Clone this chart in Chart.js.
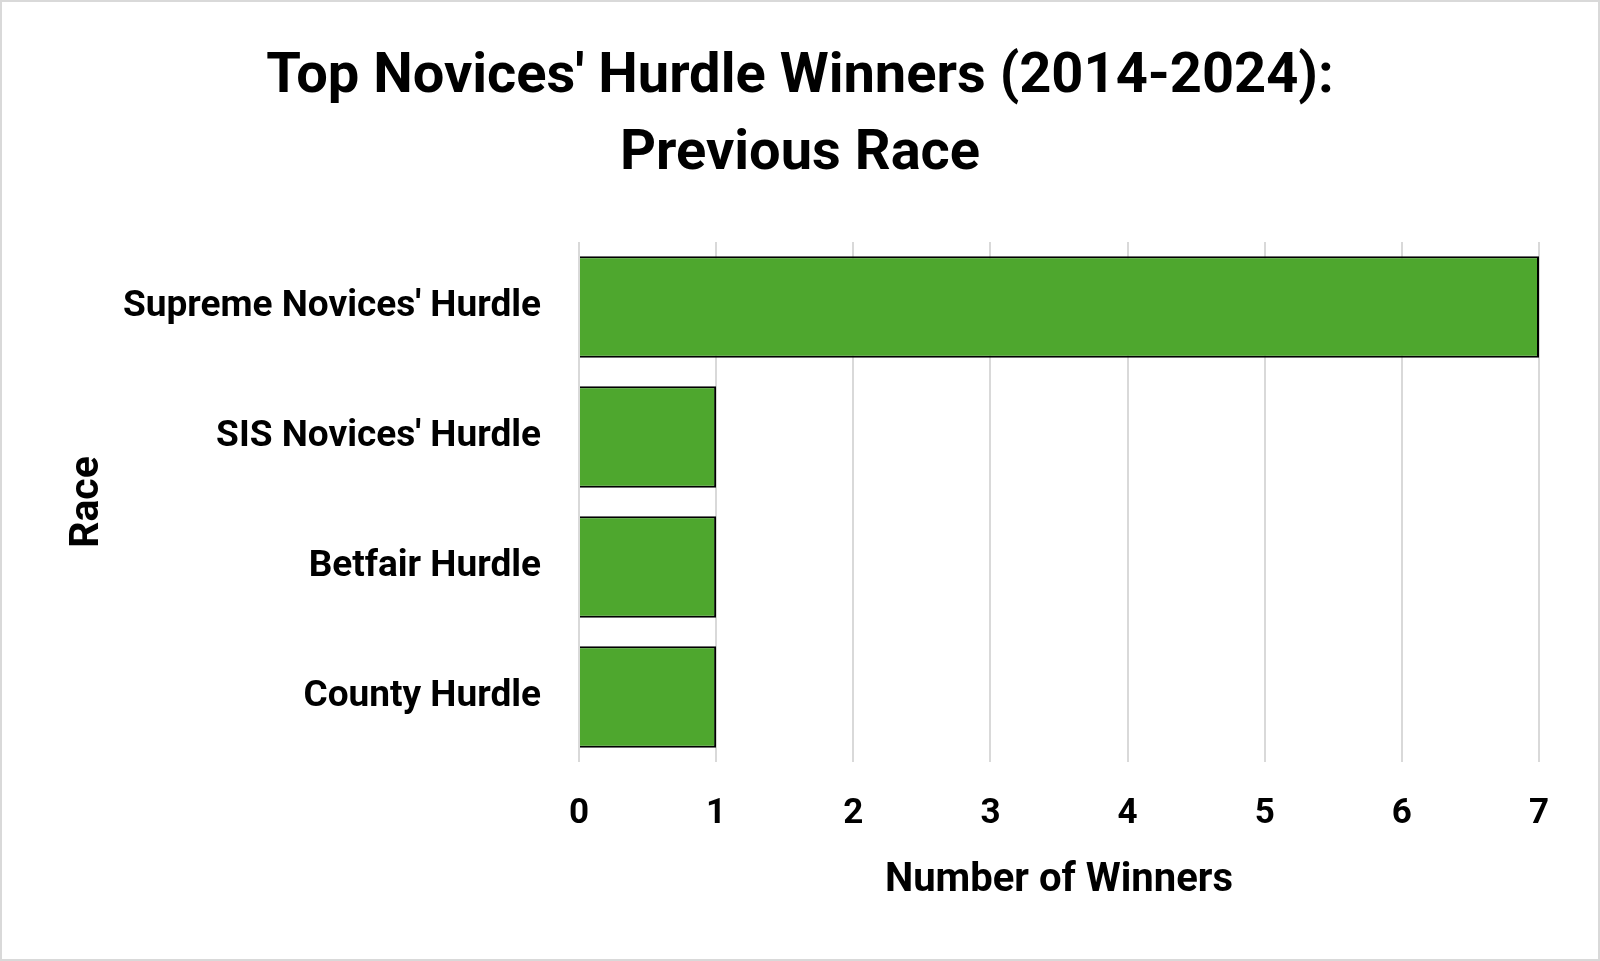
<!DOCTYPE html>
<html>
<head>
<meta charset="utf-8">
<script src="https://cdn.jsdelivr.net/npm/chart.js@4/dist/chart.umd.min.js"></script>
<style>
  html, body { margin: 0; padding: 0; background: #ffffff; }
  canvas { display: block; }
</style>
</head>
<body>
<canvas id="c" width="1600" height="961"></canvas>
<script>
const categories = ["Supreme Novices' Hurdle", "SIS Novices' Hurdle", "Betfair Hurdle", "County Hurdle"];
const winners = [7, 1, 1, 1];
const titleLines = ["Top Novices' Hurdle Winners (2014-2024):", "Previous Race"];
const xAxisTitle = "Number of Winners";
const yAxisTitle = "Race";

const FONT = "Roboto, 'Open Sans', sans-serif";

const frame = {
  id: 'frame',
  beforeDraw(chart) {
    const ctx = chart.ctx;
    ctx.save();
    ctx.fillStyle = '#ffffff';
    ctx.fillRect(0, 0, chart.width, chart.height);
    ctx.restore();
  },
  afterDraw(chart) {
    const ctx = chart.ctx;
    ctx.save();
    ctx.strokeStyle = '#d9d9d9';
    ctx.lineWidth = 2;
    ctx.strokeRect(1, 1, chart.width - 2, chart.height - 2);
    ctx.restore();
  }
};

new Chart(document.getElementById('c'), {
  type: 'bar',
  data: {
    labels: categories,
    datasets: [{
      data: winners,
      backgroundColor: '#4ea72e',
      borderColor: '#000000',
      borderWidth: 2,
      categoryPercentage: 1,
      barPercentage: 0.78,
      xAxisID: 'x',
      yAxisID: 'y'
    }]
  },
  options: {
    indexAxis: 'y',
    responsive: false,
    animation: false,
    devicePixelRatio: 1,
    layout: { padding: 0 },
    plugins: {
      legend: { display: false },
      tooltip: { enabled: false },
      title: {
        display: true,
        text: titleLines,
        color: '#000000',
        font: { family: FONT, size: 56, weight: 'bold', lineHeight: 1.375 },
        padding: { top: 39, bottom: 49 }
      }
    },
    scales: {
      x: {
        min: 0,
        max: 7,
        ticks: {
          stepSize: 1,
          color: '#000000',
          padding: 31,
          font: { family: FONT, size: 35, weight: 'bold' }
        },
        grid: { color: '#d9d9d9', lineWidth: 2, drawTicks: false },
        border: { display: false },
        title: {
          display: true,
          text: xAxisTitle,
          color: '#000000',
          font: { family: FONT, size: 40, weight: 'bold', lineHeight: 1.2 },
          padding: { top: 0, bottom: 56 }
        },
        afterFit(scale) { scale.height = 199; }
      },
      y: {
        ticks: {
          color: '#000000',
          padding: 30,
          font: { family: FONT, size: 37, weight: 'bold' }
        },
        grid: { display: false },
        border: { display: false },
        title: {
          display: true,
          text: yAxisTitle,
          color: '#000000',
          font: { family: FONT, size: 41, weight: 'bold', lineHeight: 1.2 },
          padding: { top: 63, bottom: 0 }
        },
        afterFit(scale) { scale.width = 579; }
      },
      yRight: {
        type: 'category',
        position: 'right',
        ticks: { display: false },
        grid: { display: false },
        border: { display: false },
        afterFit(scale) { scale.width = 61; }
      }
    }
  },
  plugins: [frame]
});
</script>
</body>
</html>
